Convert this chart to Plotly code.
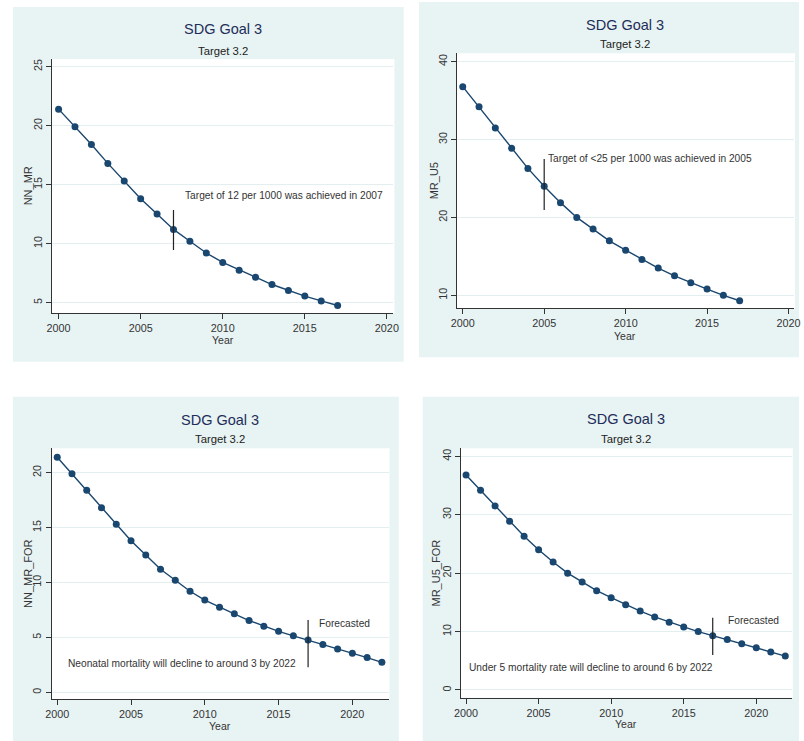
import plotly.graph_objects as go

# ---------------- data ----------------
years_obs = list(range(2000, 2018))
years_for = list(range(2000, 2023))

nn_mr = [21.4, 19.9, 18.4, 16.8, 15.3, 13.8, 12.5, 11.2, 10.2, 9.2,
         8.4, 7.75, 7.15, 6.53, 6.02, 5.55, 5.14, 4.75]
mr_u5 = [36.8, 34.2, 31.5, 28.9, 26.3, 24.0, 21.9, 20.0, 18.5, 17.0,
         15.8, 14.6, 13.5, 12.5, 11.6, 10.8, 10.0, 9.3]
nn_mr_for = nn_mr + [4.34, 3.95, 3.55, 3.16, 2.73]
mr_u5_for = mr_u5 + [8.66, 7.92, 7.24, 6.5, 5.81]

y_titles = ["NN_MR", "MR_U5", "NN_MR_FOR", "MR_U5_FOR"]
y_ticks = [[5, 10, 15, 20, 25], [10, 20, 30, 40], [0, 5, 10, 15, 20], [0, 10, 20, 30, 40]]
x_ticks = [2000, 2005, 2010, 2015, 2020]

# reference (marker) lines: year, low, high
ref_year = [2007, 2005, 2017, 2017]
ref_low = [9.45, 20.96, 2.28, 5.98]
ref_high = [12.85, 27.5, 6.59, 12.36]

# notes: (text, x, y)
notes = [
    [("Target of 12 per 1000 was achieved in 2007", 2007.58, 14.05)],
    [("Target of <25 per 1000 was achieved in 2005", 2005.14, 27.6)],
    [("Forecasted", 2017.58, 6.22), ("Neonatal mortality will decline to around 3 by 2022", 2000.6, 2.58)],
    [("Forecasted", 2017.92, 11.85), ("Under 5 mortality rate will decline to around 6 by 2022", 2000.1, 3.87)],
]

series_x = [years_obs, years_obs, years_for, years_for]
series_y = [nn_mr, mr_u5, nn_mr_for, mr_u5_for]

# ---------------- layout geometry (page pixels) ----------------
W, H = 804, 741
# panel backgrounds: x0, y0, x1, y1
panels = [(6, 7, 402.7, 361.7), (418.3, 2, 804, 357.3), (6, 396.7, 397.7, 741), (422, 396.7, 804, 741)]
# plot areas: left, top, right, bottom
plots = [(45.7, 59, 392.3, 313.3), (456.7, 53.3, 799, 308.3), (45.3, 448.3, 387.3, 699.3), (460.7, 448.3, 796.7, 697.7)]
x_ranges = [[1999.6, 2020.4], [1999.64, 2020.34], [1999.62, 2022.45], [1999.64, 2022.45]]
y_ranges = [[4.09, 25.65], [8.33, 41.08], [-0.64, 22.22], [-1.32, 41.37]]
title_y = [29.3, 25, 420, 419.3]
subtitle_y = [50.7, 44, 439.3, 439.3]
xtitle_y = [340, 335.5, 725.5, 724]
ytitle_x = [21.5, 433, 21.5, 436]

FONT = "Liberation Sans, Arial, sans-serif"
NAVY = "#1a476f"
BG = "#e8f3f3"
GRID = "#e3eef0"
AX = "#333333"
TXT = "#333333"


def px(x):
    return x / W


def py(y):
    return 1 - y / H


fig = go.Figure()
shapes = []
annotations = []

for i in range(4):
    x0, y0, x1, y1 = panels[i]
    shapes.append(dict(type="rect", xref="paper", yref="paper", x0=px(x0), x1=px(x1),
                       y0=py(y1), y1=py(y0), fillcolor=BG, line=dict(width=0), layer="below"))
for i in range(4):
    l, t, r, b = plots[i]
    shapes.append(dict(type="rect", xref="paper", yref="paper", x0=px(l), x1=px(r + 1),
                       y0=py(b), y1=py(t), fillcolor="white", line=dict(width=0), layer="below"))

for i in range(4):
    n = "" if i == 0 else str(i + 1)
    xa, ya = "x" + n, "y" + n
    l, t, r, b = plots[i]
    fig.add_trace(go.Scatter(x=series_x[i], y=series_y[i], mode="lines+markers",
                             line=dict(color=NAVY, width=1.4),
                             marker=dict(color=NAVY, size=7),
                             xaxis=xa, yaxis=ya, showlegend=False, hoverinfo="skip"))
    fig.add_trace(go.Scatter(x=[ref_year[i], ref_year[i]], y=[ref_low[i], ref_high[i]], mode="lines",
                             line=dict(color="#222222", width=1.2),
                             xaxis=xa, yaxis=ya, showlegend=False, hoverinfo="skip"))
    for txt, tx, ty in notes[i]:
        annotations.append(dict(text=txt, x=tx, y=ty, xref=xa, yref=ya, xanchor="left", yanchor="middle",
                                showarrow=False, font=dict(family=FONT, size=10.2, color=TXT)))
    cx = (l + r) / 2
    annotations.append(dict(text="SDG Goal 3", x=px(cx), y=py(title_y[i]), xref="paper", yref="paper",
                            xanchor="center", yanchor="middle", showarrow=False,
                            font=dict(family=FONT, size=14.5, color="#1e2d5a")))
    annotations.append(dict(text="Target 3.2", x=px(cx), y=py(subtitle_y[i]), xref="paper", yref="paper",
                            xanchor="center", yanchor="middle", showarrow=False,
                            font=dict(family=FONT, size=11.3, color="#222222")))
    annotations.append(dict(text="Year", x=px(cx), y=py(xtitle_y[i]), xref="paper", yref="paper",
                            xanchor="center", yanchor="middle", showarrow=False,
                            font=dict(family=FONT, size=10.5, color=TXT)))
    annotations.append(dict(text=y_titles[i], x=px(ytitle_x[i]), y=py((t + b) / 2), xref="paper", yref="paper",
                            xanchor="center", yanchor="middle", showarrow=False, textangle=-90,
                            font=dict(family=FONT, size=11, color=TXT)))

    fig.layout["xaxis" + n] = dict(domain=[px(l), px(r)], range=x_ranges[i], anchor=ya,
                                    tickvals=x_ticks, ticks="outside", ticklen=5, tickcolor=AX,
                                    showline=True, linecolor=AX, linewidth=1, showgrid=False,
                                    zeroline=False, tickfont=dict(family=FONT, size=10.8, color=TXT))
    fig.layout["yaxis" + n] = dict(domain=[py(b), py(t)], range=y_ranges[i], anchor=xa,
                                    tickvals=y_ticks[i], ticks="outside", ticklen=5, tickcolor=AX,
                                    showline=True, linecolor=AX, linewidth=1, showgrid=True,
                                    gridcolor=GRID, gridwidth=1, zeroline=False, tickangle=-90,
                                    tickfont=dict(family=FONT, size=10.8, color=TXT))

fig.update_layout(width=W, height=H, autosize=False, margin=dict(l=0, r=0, t=0, b=0),
                  paper_bgcolor="white", plot_bgcolor="rgba(0,0,0,0)",
                  shapes=shapes, annotations=annotations, font=dict(family=FONT))

fig.write_html("out.html", config={"displayModeBar": False},
               post_script="document.body.style.margin='0';")
